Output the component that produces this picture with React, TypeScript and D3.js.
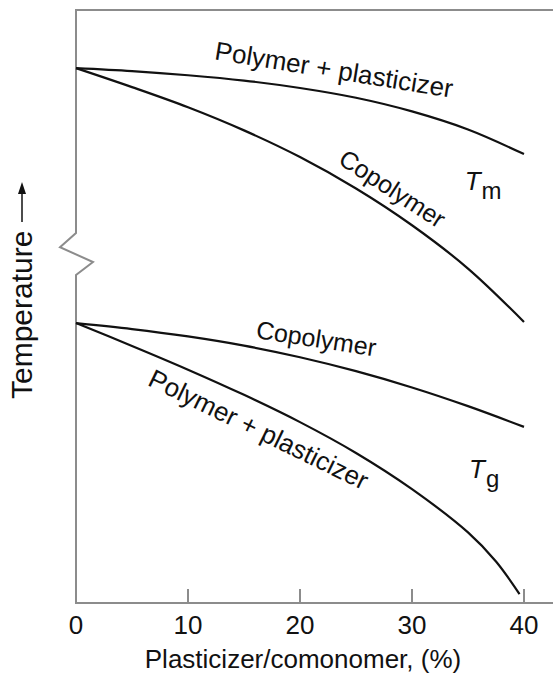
import React from "react";
import * as d3 from "d3";

// Composition (%) of plasticizer or comonomer
const composition = [0, 5, 10, 15, 20, 25, 30, 35, 40];

// Relative temperature readings (arbitrary units, axis is broken)
const tmPlasticizer = [90.2, 89.7, 89.0, 88.1, 86.85, 85.2, 82.9, 79.85, 75.7];
const tmCopolymer = [90.2, 87.0, 83.6, 79.7, 75.2, 69.9, 63.7, 56.4, 47.4];
const tgCopolymer = [47.2, 46.2, 44.95, 43.4, 41.45, 39.1, 36.35, 33.2, 29.7];
const tgPlasticizerX = [0, 5, 10, 15, 20, 25, 30, 35, 37.5, 39.6];
const tgPlasticizer = [47.2, 43.35, 39.35, 35.1, 30.5, 25.3, 19.2, 11.9, 7.0, 1.5];

const xTicks = [0, 10, 20, 30, 40];
const xLabel = "Plasticizer/comonomer, (%)";
const yLabel = "Temperature";

const W = 553;
const H = 673;

export default function App() {
  const x = d3.scaleLinear().domain([0, 40]).range([76, 524]);
  const y = d3.scaleLinear().domain([0, 100]).range([603, 10]);
  const line = d3
    .line<[number, number]>()
    .x((d) => x(d[0]))
    .y((d) => y(d[1]))
    .curve(d3.curveCatmullRom.alpha(0.5));

  const series: [number, number][][] = [
    composition.map((c, i) => [c, tmPlasticizer[i]]),
    composition.map((c, i) => [c, tmCopolymer[i]]),
    composition.map((c, i) => [c, tgCopolymer[i]]),
    tgPlasticizerX.map((c, i) => [c, tgPlasticizer[i]]),
  ];

  const x0 = x(0);
  const yBottom = y(0);
  const yTop = y(100);
  // broken-axis zigzag
  const breakTop = y(62.4);
  const breakBottom = y(55.3);
  const axisPath =
    `M${W},${yTop}H${x0}V${breakTop}` +
    `L${x0 - 16},${y(60.0)}L${x0 + 17},${y(57.5)}L${x0},${breakBottom}` +
    `V${yBottom}H${W}`;

  const font = "'Liberation Sans', Arial, Helvetica, sans-serif";
  const curveLabels = [
    { text: "Polymer + plasticizer", at: [12.3, 91.7], angle: 9.2, size: 26 },
    { text: "Copolymer", at: [23.3, 74.2], angle: 33, size: 25 },
    { text: "Copolymer", at: [16.0, 44.7], angle: 8.8, size: 25 },
    { text: "Polymer + plasticizer", at: [6.3, 36.8], angle: 26, size: 26 },
  ];
  const symbols = [
    { main: "T", sub: "m", at: [34.7, 69.6] },
    { main: "T", sub: "g", at: [35.1, 21.1] },
  ];

  return (
    <svg
      width={W}
      height={H}
      style={{ position: "absolute", left: 0, top: 0, background: "#fff" }}
      fontFamily={font}
    >
      <path d={axisPath} fill="none" stroke="#8c8c8c" strokeWidth={2} />
      {xTicks
        .filter((t) => t !== 0)
        .map((t) => (
          <line
            key={t}
            x1={x(t)}
            x2={x(t)}
            y1={yBottom}
            y2={yBottom - 14}
            stroke="#8c8c8c"
            strokeWidth={2}
          />
        ))}
      {xTicks.map((t) => (
        <text
          key={"l" + t}
          x={x(t)}
          y={yBottom + 31}
          textAnchor="middle"
          fontSize={26}
          fill="#111"
        >
          {t}
        </text>
      ))}
      <text x={303} y={668} textAnchor="middle" fontSize={26} fill="#111">
        {xLabel}
      </text>
      <text
        transform={`translate(32,399) rotate(-90)`}
        fontSize={30}
        fill="#111"
      >
        {yLabel}
      </text>
      <line x1={22} x2={22} y1={222} y2={192} stroke="#111" strokeWidth={1.5} />
      <path d="M22,182L18,194L26,194Z" fill="#111" />

      {series.map((s, i) => (
        <path
          key={i}
          d={line(s) || ""}
          fill="none"
          stroke="#111"
          strokeWidth={2.2}
        />
      ))}

      {curveLabels.map((l, i) => (
        <text
          key={"c" + i}
          transform={`translate(${x(l.at[0])},${y(l.at[1])}) rotate(${l.angle})`}
          fontSize={l.size}
          fill="#111"
        >
          {l.text}
        </text>
      ))}
      {symbols.map((s, i) => (
        <text
          key={"s" + i}
          x={x(s.at[0])}
          y={y(s.at[1])}
          fontSize={26}
          fill="#111"
        >
          <tspan fontStyle="italic">{s.main}</tspan>
          <tspan dx={1} dy={9} fontSize={24}>
            {s.sub}
          </tspan>
        </text>
      ))}
    </svg>
  );
}
